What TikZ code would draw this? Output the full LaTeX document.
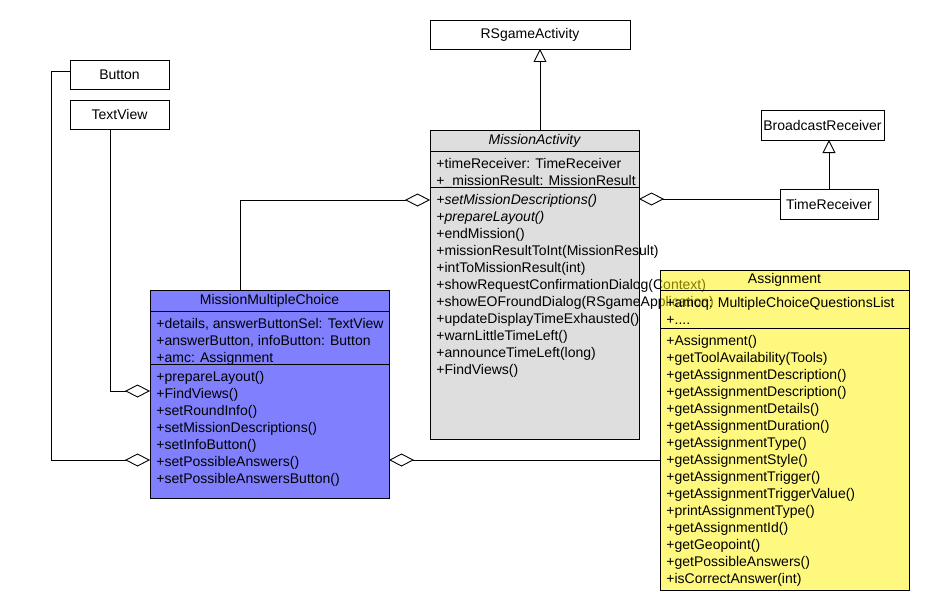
\documentclass[tikz,border=0pt]{standalone}
\usepackage{fontspec}
\setmainfont{Liberation Sans}
\usetikzlibrary{positioning,arrows.meta}
\definecolor{mmcblue}{RGB}{128,128,255}
\definecolor{magray}{RGB}{222,222,222}
\newcommand{\umlfont}{\fontsize{14}{17}\selectfont}

\begin{document}
\begin{tikzpicture}[x=1pt, y=-1pt, line width=0.9pt,
		simple_class/.style={draw=black, fill=white, minimum height=29pt, inner sep=0pt, outer sep=0pt, font=\umlfont},
		class_name/.style={draw=black, fill=#1, inner sep=0pt, outer sep=0pt, font=\umlfont},
		class_part/.style={draw=black, fill=#1, inner sep=0pt, outer sep=0pt},
		members/.style={anchor=north west, align=left, inner xsep=6pt, inner ysep=6.5pt, font=\umlfont},
		inherit_style/.style={draw=black, -{Triangle[open, length=13pt, width=13pt]}},
		aggr_style/.style={draw=black, -{Diamond[open, length=25pt, width=13pt]}}]

		\useasboundingbox (0,0) rectangle (930,610);

		\node[simple_class, minimum width=200pt] (rs) at (530,34.5) {RSgameActivity};
		\node[simple_class, minimum width=99pt] (btn) at (119.5,74.5) {Button};
		\node[simple_class, minimum width=99pt] (tv) at (119.5,114.5) {TextView};
		\node[simple_class, minimum width=123pt, minimum height=30pt] (br) at (822.5,125) {BroadcastReceiver};
		\node[simple_class, minimum width=98pt, minimum height=30pt] (tr) at (829,204) {TimeReceiver};

		% MissionActivity
		\node[class_name=magray, minimum width=209pt, minimum height=21pt, font=\umlfont\itshape] (ma) at (534.5,140.5) {MissionActivity};
		\node[class_part=magray, minimum width=209pt, minimum height=36pt, below=0pt of ma] (ma_attr) {};
		\node[class_part=magray, minimum width=209pt, minimum height=252pt, below=0pt of ma_attr] (ma_ops) {};
		\node[members] (ma_attr_text) at (ma_attr.north west) {+timeReceiver: TimeReceiver\\+\_missionResult: MissionResult};
		\node[members] (ma_ops_text) at (ma_ops.north west) {\textit{+setMissionDescriptions()}\\\textit{+prepareLayout()}\\+endMission()\\+missionResultToInt(MissionResult)\\+intToMissionResult(int)\\+showRequestConfirmationDialog(Context)\\+showEOFroundDialog(RSgameApplication)\\+updateDisplayTimeExhausted()\\+warnLittleTimeLeft()\\+announceTimeLeft(long)\\+FindViews()};

		% MissionMultipleChoice
		\node[class_name=mmcblue, minimum width=239pt, minimum height=21pt] (mmc) at (269.5,300.5) {MissionMultipleChoice};
		\node[class_part=mmcblue, minimum width=239pt, minimum height=53pt, below=0pt of mmc] (mmc_attr) {};
		\node[class_part=mmcblue, minimum width=239pt, minimum height=134pt, below=0pt of mmc_attr] (mmc_ops) {};
		\node[members] (mmc_attr_text) at (mmc_attr.north west) {+details, answerButtonSel: TextView\\+answerButton, infoButton: Button\\+amc: Assignment};
		\node[members] (mmc_ops_text) at (mmc_ops.north west) {+prepareLayout()\\+FindViews()\\+setRoundInfo()\\+setMissionDescriptions()\\+setInfoButton()\\+setPossibleAnswers()\\+setPossibleAnswersButton()};

		% Assignment
		\node[class_name=yellow, fill opacity=0.5, text opacity=1, minimum width=249pt, minimum height=20pt] (as) at (784.5,280) {Assignment};
		\node[class_part=yellow, fill opacity=0.5, minimum width=249pt, minimum height=38pt, below=0pt of as] (as_attr) {};
		\node[class_part=yellow, fill opacity=0.5, minimum width=249pt, minimum height=262pt, below=0pt of as_attr] (as_ops) {};
		\node[members] (as_attr_text) at (as_attr.north west) {+amcq: MultipleChoiceQuestionsList\\+....};
		\node[members] (as_ops_text) at (as_ops.north west) {+Assignment()\\+getToolAvailability(Tools)\\+getAssignmentDescription()\\+getAssignmentDescription()\\+getAssignmentDetails()\\+getAssignmentDuration()\\+getAssignmentType()\\+getAssignmentStyle()\\+getAssignmentTrigger()\\+getAssignmentTriggerValue()\\+printAssignmentType()\\+getAssignmentId()\\+getGeopoint()\\+getPossibleAnswers()\\+isCorrectAnswer(int)};

		\draw[inherit_style] ([xshift=5.5pt]ma.north) -- ([xshift=5.5pt]ma.north |- rs.south);
		\draw[inherit_style] (tr.north) -- (tr.north |- br.south);
		\draw[aggr_style] ([yshift=5pt]tr.west) -- ([yshift=5pt]tr.west -| ma_ops.east);
		\draw[aggr_style] ([xshift=-29.5pt]mmc.north) |- ([yshift=-13pt]ma_ops.north west);
		\coordinate (btn_corner) at ([xshift=-19pt, yshift=3.5pt]btn.west);
		\draw[aggr_style] ([yshift=3.5pt]btn.west) -- (btn_corner) |- ([yshift=-96pt]mmc_ops.north west);
		\draw[aggr_style] ([xshift=-9.5pt]tv.south) |- ([yshift=-27pt]mmc_ops.north west);
		\draw[aggr_style] ([yshift=-132pt]as_ops.north west) -- ([yshift=-96pt]mmc_ops.north east);

\end{tikzpicture}
\end{document}
